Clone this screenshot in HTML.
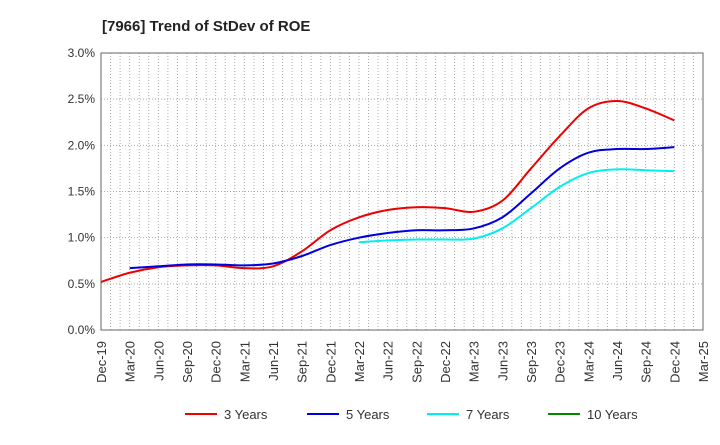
<!DOCTYPE html>
<html><head><meta charset="utf-8"><style>
body{margin:0;background:#fff;width:720px;height:440px;overflow:hidden}
svg text{font-family:"Liberation Sans",Arial,sans-serif;fill:#333}
</style></head><body>
<svg id="chart" width="720" height="440" xmlns="http://www.w3.org/2000/svg">
<text x="102" y="31" font-size="15" font-weight="bold" style="fill:#222">[7966]  Trend of StDev of ROE</text>
<g id="grid"></g><g id="axes"></g><g id="series"></g><g id="legend"></g>
</svg>
<script>
const xLabels=["Dec-19","Mar-20","Jun-20","Sep-20","Dec-20","Mar-21","Jun-21","Sep-21","Dec-21","Mar-22","Jun-22","Sep-22","Dec-22","Mar-23","Jun-23","Sep-23","Dec-23","Mar-24","Jun-24","Sep-24","Dec-24","Mar-25"];
const yTicks=[0,0.5,1.0,1.5,2.0,2.5,3.0];
const s3=[0.52,0.62,0.68,0.70,0.70,0.67,0.69,0.85,1.08,1.22,1.30,1.33,1.32,1.28,1.40,1.75,2.10,2.40,2.48,2.40,2.27];
const s3Start=0;
const s5=[0.67,0.69,0.71,0.71,0.70,0.72,0.80,0.92,1.00,1.05,1.08,1.08,1.10,1.22,1.48,1.75,1.92,1.96,1.96,1.98];
const s5Start=1;
const s7=[0.95,0.97,0.98,0.98,0.99,1.10,1.32,1.55,1.70,1.74,1.73,1.72];
const s7Start=9;
const s10=[];
const s10Start=0;
const L=101,R=703,T=53,B=330,yMax=3.0;
const xs=i=>L+(R-L)*i/(xLabels.length-1);
const ys=v=>B-(B-T)*v/yMax;
const NS="http://www.w3.org/2000/svg";
function mk(tag,attrs,parent){const e=document.createElementNS(NS,tag);for(const k in attrs)e.setAttribute(k,attrs[k]);parent.appendChild(e);return e;}
const grid=document.getElementById('grid'),axes=document.getElementById('axes'),series=document.getElementById('series'),legend=document.getElementById('legend');
const nMonths=(xLabels.length-1)*3;
for(let m=1;m<nMonths;m++){const x=L+(R-L)*m/nMonths;
const g=mk('line',{x1:x,x2:x,y1:T,y2:B,stroke:'#aaa','stroke-dasharray':'1,2','stroke-width':1},grid);
}
yTicks.forEach(v=>{const y=ys(v);
if(v>0&&v<yMax){const g=mk('line',{x1:L,x2:R,y1:y,y2:y,stroke:'#aaa','stroke-dasharray':'1,2'},grid);
}
const t=mk('text',{x:L-6,y:y+4,'text-anchor':'end','font-size':12},axes);t.textContent=v.toFixed(1)+'%';
});
const fr=mk('rect',{x:L,y:T,width:R-L,height:B-T,fill:'none',stroke:'#666'},axes);

xLabels.forEach((l,i)=>{const x=xs(i);
const t=mk('text',{x:0,y:0,'text-anchor':'end','font-size':13,transform:`translate(${x+5},${B+11}) rotate(-90)`},axes);t.textContent=l;
});
function path(data,start){if(!data.length)return '';const p=data.map((v,i)=>[xs(start+i),ys(v)]);
let d=`M${p[0][0]},${p[0][1]}`;
for(let i=0;i<p.length-1;i++){const p0=p[i-1]||p[i],p1=p[i],p2=p[i+1],p3=p[i+2]||p2;
d+=` C${p1[0]+(p2[0]-p0[0])/6},${p1[1]+(p2[1]-p0[1])/6} ${p2[0]-(p3[0]-p1[0])/6},${p2[1]-(p3[1]-p1[1])/6} ${p2[0]},${p2[1]}`;}
return d;}
const defs=[[s3,s3Start,'#e00','3 Years','series-3-years',185],[s5,s5Start,'#00d','5 Years','series-5-years',307],[s7,s7Start,'#0ee','7 Years','series-7-years',427],[s10,s10Start,'#080','10 Years','series-10-years',548]];
defs.forEach(([d,s,c,name,id,lx])=>{
if(d.length){const p=mk('path',{d:path(d,s),fill:'none',stroke:c,'stroke-width':2},series);
}
const g=mk('g',{},legend);
mk('line',{x1:lx,x2:lx+32,y1:414,y2:414,stroke:c,'stroke-width':2},g);
const t=mk('text',{x:lx+39,y:419,'font-size':13},g);t.textContent=name;});
</script>
</body></html>
